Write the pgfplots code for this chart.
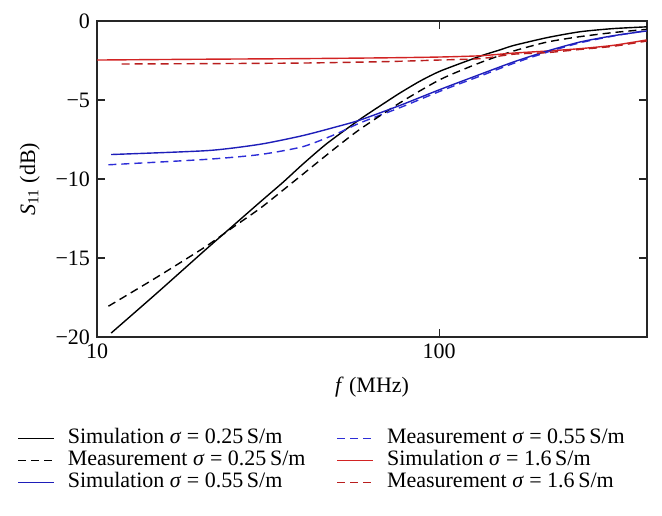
\documentclass[border=0pt]{standalone}
\usepackage{fontspec}
\setmainfont{Liberation Serif}
\usepackage{pgfplots}
\pgfplotsset{compat=1.18}
\definecolor{simblue}{RGB}{30,30,185}
\definecolor{measblue}{RGB}{45,45,215}
\definecolor{simred}{RGB}{210,35,35}
\definecolor{measred}{RGB}{185,30,30}
\begin{document}
\begin{tikzpicture}
\begin{axis}[
  scale only axis, width=275pt, height=158pt,
  xmode=log, xmin=10, xmax=405, ymin=-20, ymax=0,
  xtick={10,100}, xticklabels={10,100}, xminorticks=false,
  ytick={-20,-15,-10,-5,0}, yticklabels={−20,−15,−10,−5,0},
  tick align=inside, major tick length=4pt,
  font=\fontsize{11}{13}\selectfont,
  axis line style={line width=0.6pt, black!85},
  every tick/.style={black!85, line width=0.6pt},
  xlabel={\textit{f} (MHz)},
  ylabel={\textit{S}\textsubscript{11} (dB)},
  xlabel style={at={(axis description cs:0.5,-0.158)}, anchor=center},
  ylabel style={at={(axis description cs:-0.122,0.5)}, anchor=center},
  legend columns=2,
  legend cell align=left,
  legend image code/.code={\draw[#1] (0pt,0pt) -- (18pt,0pt);},
  legend style={at={(axis description cs:0,0)}, anchor=north west,
    xshift=-40pt, yshift=-45.25pt, draw=none, fill=none, inner sep=0pt,
    row sep=0.5pt,
    nodes={inner sep=0.5pt, text height=7.5pt, text depth=2pt},
    /tikz/every odd column/.append style={column sep=6pt},
    /tikz/every even column/.append style={column sep=15pt},
    font=\fontsize{11}{13}\selectfont},
  every axis plot/.append style={line width=0.7pt, smooth, tension=0.4},
  mydash/.style={dash pattern=on 4pt off 2.5pt},
]
% 1 Simulation 0.25
\addplot[black] coordinates {
(11,-19.75) (15,-17.2) (20.7,-14.5) (25,-12.95) (30,-11.45) (35,-10.2) (40,-9.05)
(47,-7.75) (58.7,-6.22) (68,-5.3) (76.9,-4.55) (88,-3.8) (101,-3.16) (132,-2.22) (150,-1.84)
(165,-1.55) (207,-1.05) (258,-0.68) (323,-0.48) (404,-0.37)};
\addlegendentry{Simulation \textit{σ} = 0.25\,S/m}
% 2 Measurement 0.55
\addplot[measblue, mydash] coordinates {
(10.8,-9.1) (21.1,-8.75) (30,-8.45) (40,-7.95) (50,-7.15) (58.7,-6.45)
(76.9,-5.48) (101,-4.43) (132,-3.48) (165,-2.68) (207,-1.97) (258,-1.38)
(323,-0.95) (404,-0.6)};
\addlegendentry{Measurement \textit{σ} = 0.55\,S/m}
% 3 Measurement 0.25
\addplot[black, mydash] coordinates {
(10.8,-18.05) (15,-16.2) (20.7,-14.3) (25,-13.05) (30,-11.85) (35,-10.7) (41,-9.5)
(50,-8.0) (58.7,-6.85) (76.9,-5.17) (101,-3.69) (132,-2.63) (165,-1.9) (207,-1.33)
(258,-0.99) (323,-0.73) (404,-0.53)};
\addlegendentry{Measurement \textit{σ} = 0.25\,S/m}
% 4 Simulation 1.6
\addplot[simred] coordinates {
(10,-2.47) (20,-2.42) (40,-2.38) (70,-2.33) (100,-2.28) (132,-2.2)
(165,-2.03) (207,-1.9) (258,-1.75) (323,-1.54) (404,-1.2)};
\addlegendentry{Simulation \textit{σ} = 1.6\,S/m}
% 5 Simulation 0.55
\addplot[simblue] coordinates {
(11,-8.45) (21.1,-8.2) (30,-7.8) (40,-7.25) (50,-6.7) (58.7,-6.27)
(76.9,-5.34) (101,-4.32) (132,-3.37) (165,-2.59) (207,-1.9) (258,-1.33)
(323,-0.93) (404,-0.63)};
\addlegendentry{Simulation \textit{σ} = 0.55\,S/m}
% 6 Measurement 1.6
\addplot[measred, mydash] coordinates {
(11.8,-2.72) (20,-2.7) (40,-2.66) (70,-2.57) (100,-2.47) (132,-2.38)
(165,-2.1) (207,-2.0) (258,-1.8) (323,-1.6) (404,-1.27)};
\addlegendentry{Measurement \textit{σ} = 1.6\,S/m}
\coordinate (sw) at (rel axis cs:0,0);
\coordinate (ne) at (rel axis cs:1,1);
\end{axis}
\pgfresetboundingbox
\path ([xshift=-48.5pt,yshift=-89pt]sw) rectangle ([xshift=7.5pt,yshift=10.5pt]ne);
\end{tikzpicture}
\end{document}
